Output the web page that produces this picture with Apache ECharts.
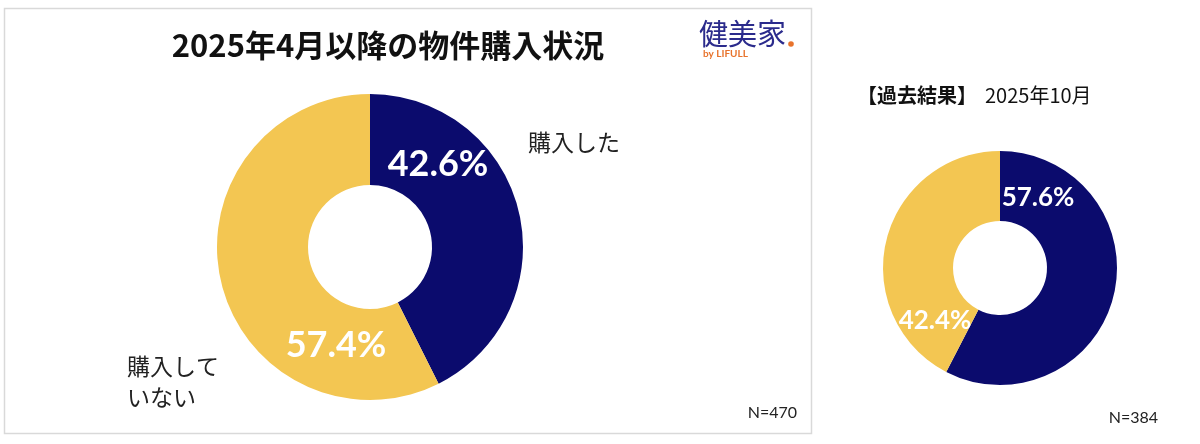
<!DOCTYPE html>
<html>
<head>
<meta charset="utf-8">
<script src="https://cdn.jsdelivr.net/npm/echarts@6/dist/echarts.min.js"></script>
<style>
  html, body { margin: 0; padding: 0; background: #fff; }
  #main { width: 1200px; height: 444px; }
</style>
</head>
<body>
<div id="main"></div>
<script>
// 回答カテゴリ
var categories = ['購入した', '購入していない'];
// 2025年4月以降（N=470）
var currentValues = [42.6, 57.4];
// 過去結果 2025年10月（N=384）
var pastValues = [57.6, 42.4];
var colors = ['#0b0b6d', '#f3c652'];

var jp = '"Noto Sans CJK JP", "Noto Sans", sans-serif';
var pctFont = 'Lato, "Noto Sans", sans-serif';

function pieData(vals) {
    return vals.map(function (v, i) {
        return { name: categories[i], value: v, itemStyle: { color: colors[i] } };
    });
}
function pct(v) { return v.toFixed(1) + '%'; }

var mychart = echarts.init(document.getElementById('main'), null, { renderer: 'canvas' });

var option = {
    animation: false,
    backgroundColor: '#fff',
    graphic: [
        // 左パネルの枠
        { type: 'rect', shape: { x: 4.5, y: 8.5, width: 807, height: 425 },
          style: { fill: 'none', stroke: '#d9d9d9', lineWidth: 1.5 } },
        // タイトル
        { type: 'text', x: 388, y: 45,
          style: { text: '2025年4月以降の物件購入状況', font: 'bold 31px ' + jp, fill: '#111',
                   textAlign: 'center', textVerticalAlign: 'middle' } },
        // ロゴ
        { type: 'text', x: 699, y: 34,
          style: { text: '健美家', font: '29px ' + jp, fill: '#2b2b8c', textVerticalAlign: 'middle' } },
        { type: 'circle', shape: { cx: 791, cy: 44, r: 2.8 }, style: { fill: '#e8732c' } },
        { type: 'text', x: 703, y: 54,
          style: { text: 'by LIFULL', font: 'bold 10px ' + pctFont, fill: '#e8732c', textVerticalAlign: 'middle' } },
        // カテゴリ名
        { type: 'text', x: 528, y: 142,
          style: { text: categories[0], font: '23px ' + jp, fill: '#222', textVerticalAlign: 'middle' } },
        { type: 'text', x: 127, y: 351,
          style: { text: '購入して\nいない', font: '23px ' + jp, fill: '#222', lineHeight: 31 } },
        // N数
        { type: 'text', x: 797, y: 413,
          style: { text: 'N=470', font: '16px ' + pctFont, fill: '#222', textAlign: 'right', textVerticalAlign: 'middle' } },
        { type: 'text', x: 1158, y: 418,
          style: { text: 'N=384', font: '16px ' + pctFont, fill: '#222', textAlign: 'right', textVerticalAlign: 'middle' } },
        // 右側タイトル
        { type: 'text', x: 857, y: 95,
          style: { text: '【過去結果】', font: 'bold 20px ' + jp, fill: '#111', textVerticalAlign: 'middle' } },
        { type: 'text', x: 985, y: 95,
          style: { text: '2025年10月', font: '20px ' + jp, fill: '#111', textVerticalAlign: 'middle' } },
        // パーセント（円の上に重ねる）
        { type: 'text', x: 438, y: 164, z: 100,
          style: { text: pct(currentValues[0]), font: 'bold 36px ' + pctFont, fill: '#fff',
                   textAlign: 'center', textVerticalAlign: 'middle' } },
        { type: 'text', x: 336, y: 345, z: 100,
          style: { text: pct(currentValues[1]), font: 'bold 36px ' + pctFont, fill: '#fff',
                   textAlign: 'center', textVerticalAlign: 'middle' } },
        { type: 'text', x: 1038, y: 198, z: 100,
          style: { text: pct(pastValues[0]), font: 'bold 26px ' + pctFont, fill: '#fff',
                   textAlign: 'center', textVerticalAlign: 'middle' } },
        { type: 'text', x: 935, y: 321, z: 100,
          style: { text: pct(pastValues[1]), font: 'bold 26px ' + pctFont, fill: '#fff',
                   textAlign: 'center', textVerticalAlign: 'middle' } }
    ],
    series: [
        {
            name: '2025年4月以降',
            type: 'pie',
            center: [370, 247],
            radius: [62, 153],
            startAngle: 90,
            clockwise: true,
            label: { show: false },
            labelLine: { show: false },
            silent: true,
            data: pieData(currentValues)
        },
        {
            name: '2025年10月',
            type: 'pie',
            center: [1000, 268],
            radius: [47, 117],
            startAngle: 90,
            clockwise: true,
            label: { show: false },
            labelLine: { show: false },
            silent: true,
            data: pieData(pastValues)
        }
    ]
};
mychart.setOption(option);
</script>
</body>
</html>
